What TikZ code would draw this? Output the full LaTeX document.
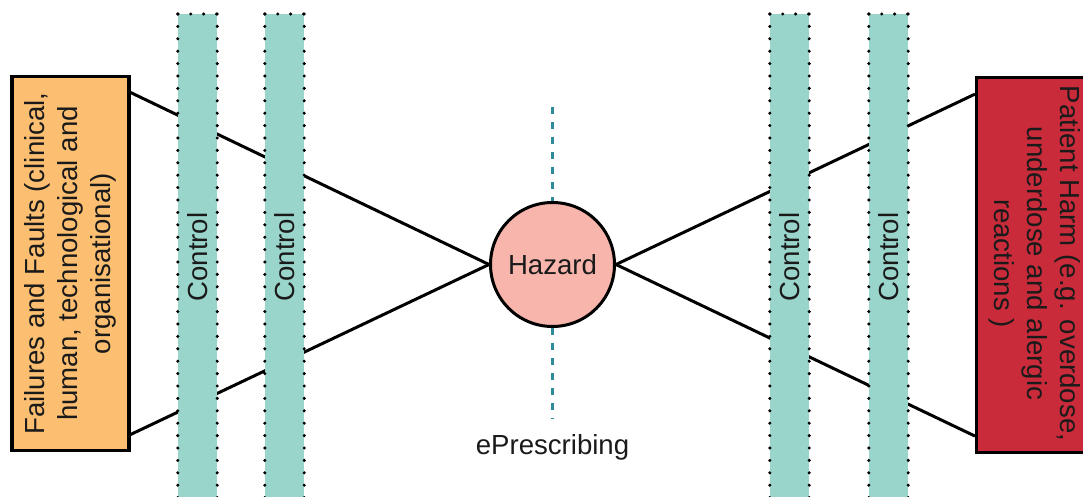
\documentclass[tikz,border=0pt]{standalone}
\usepackage{fontspec}
\setmainfont{Liberation Sans}
\definecolor{causefill}{HTML}{FCBF71}
\definecolor{harmfill}{HTML}{C92B3A}
\definecolor{hazardfill}{HTML}{F7B5AC}
\definecolor{barfill}{HTML}{9AD5CB}
\definecolor{axisteal}{HTML}{2F8A9B}
\definecolor{inktext}{HTML}{1A1A1A}
\tikzset{
  bigtext/.style={font=\fontsize{27.6}{33}\selectfont, text=inktext},
  endbox/.style={draw=black, line width=3.2pt, rectangle, inner sep=0pt, bigtext, align=center},
  controlbar/.style={rectangle, fill=barfill, inner sep=0pt, minimum width=39pt, minimum height=500pt, bigtext},
  dotrow/.style={draw=black, line width=3.4pt, line cap=round, dash pattern=on 0pt off 12.4pt},
  link/.style={draw=black, line width=3pt},
  axisline/.style={draw=axisteal, line width=2.8pt, dash pattern=on 7pt off 8pt},
}
\begin{document}
\begin{tikzpicture}[x=1pt, y=-1pt]
\useasboundingbox (0,0) rectangle (1083,497);
\clip (0,0) rectangle (1083,497);

% end boxes and the central hazard
\node[endbox, fill=causefill, minimum width=117pt, minimum height=374pt] (cause) at (70.5,263.5) {};
\node[rotate=90, bigtext, align=center] (causetext) at (70.5,263.5)
  {Failures and Faults (clinical,\\ human, technological and\\ organisational)};
\node[endbox, fill=harmfill, minimum width=140pt, minimum height=375pt, anchor=north west] (harm) at (975,76) {};
\node[rotate=-90, bigtext, align=center] (harmtext) at (1035,263.5)
  {Patient Harm (e.g. overdose,\\ underdose and alergic\\ reactions )};
\node[circle, draw=black, line width=3pt, fill=hazardfill, minimum size=124pt, inner sep=0pt, bigtext] (hazard) at (552.5,264.5) {Hazard};

% connectors pass beneath the control bars
\draw[link] ([yshift=171pt]cause.east) -- (hazard.west);
\draw[link] ([yshift=-171pt]cause.east) -- (hazard.west);
\draw[link] ([yshift=171pt]harm.west) -- (hazard.east);
\draw[link] ([yshift=-171pt]harm.west) -- (hazard.east);

% control barriers
\foreach \name/\cx in {c1/197.5, c2/284.5, c3/789.5, c4/888.5} {
  \node[controlbar, anchor=north] (\name) at (\cx,14) {};
  \node[rotate=90, bigtext] at (\cx,257) {Control};
  \draw[dotrow] (\name.north west) -- (\name.south west);
  \draw[dotrow] (\name.north east) -- (\name.south east);
  \draw[dotrow, dash pattern=on 0pt off 12.9pt] (\name.north west) -- (\name.north east);
}

% hazard axis
\coordinate (axtop) at (552.5,107);
\coordinate (axbot) at (552.5,419);
\draw[axisline] (axtop) -- (hazard.north);
\draw[axisline] (hazard.south) -- (axbot);
\node[bigtext] (axislabel) at (552.5,447) {ePrescribing};
\end{tikzpicture}
\end{document}
